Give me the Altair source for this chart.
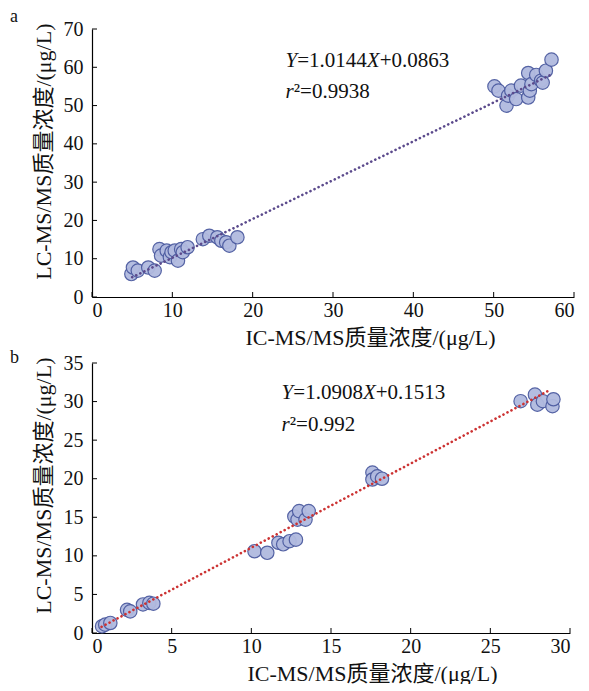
import altair as alt
import pandas as pd

# ---------------- data ----------------
a_x = [4.9, 5.1, 5.7, 7.0, 7.8, 8.4, 8.6, 9.3, 9.7, 9.9, 10.3, 10.7, 11.1, 11.3, 11.9,
       13.8, 14.6, 15.6, 16.1, 16.7, 17.1, 18.1,
       50.1, 50.6, 51.6, 51.8, 52.2, 52.8, 53.4, 54.3, 54.5, 54.3, 54.7, 55.3, 55.9, 56.1, 56.5, 57.2]
a_y = [6.0, 7.7, 6.9, 7.7, 6.9, 12.5, 10.8, 12.1, 10.4, 11.7, 12.1, 9.5, 12.5, 11.7, 13.0,
       15.1, 16.0, 15.6, 14.7, 14.3, 13.4, 15.6,
       55.0, 53.9, 50.0, 52.6, 53.9, 51.7, 55.2, 52.1, 53.9, 58.5, 55.6, 58.0, 56.5, 56.0, 59.1, 62.0]

b_x = [0.63, 0.83, 1.15, 2.2, 2.4, 3.2, 3.6, 3.85,
       10.2, 11.0, 11.7, 12.0, 12.4, 12.8, 12.7, 12.9, 13.0, 13.4, 13.6,
       17.6, 17.6, 17.9, 18.2,
       26.9, 27.8, 27.95, 28.3, 28.9, 28.96]
b_y = [0.87, 1.08, 1.3, 3.0, 2.8, 3.7, 3.9, 3.8,
       10.6, 10.4, 11.7, 11.5, 11.9, 12.1, 15.1, 14.7, 15.8, 14.7, 15.8,
       20.8, 19.9, 20.3, 20.0,
       30.05, 30.9, 29.6, 30.05, 29.4, 30.3]

a_fit = (1.0144, 0.0863)
b_fit = (1.0908, 0.1513)
a_line_x = [5.0, 57.0]
b_line_x = [0.6, 28.6]

a_xticks = [0, 10, 20, 30, 40, 50, 60]
a_yticks = [0, 10, 20, 30, 40, 50, 60, 70]
b_xticks = [0, 5, 10, 15, 20, 25, 30]
b_yticks = [0, 5, 10, 15, 20, 25, 30, 35]

a_eq = [("Y", True), ("=1.0144", False), ("X", True), ("+0.0863", False)]
a_r2 = [("r", True), ("²=0.9938", False)]
b_eq = [("Y", True), ("=1.0908", False), ("X", True), ("+0.1513", False)]
b_r2 = [("r", True), ("²=0.992", False)]

a_eq_pos = (24.1, 61.6)
a_r2_pos = (24.1, 53.6)
b_eq_pos = (11.9, 31.1)
b_r2_pos = (11.9, 27.0)

x_title = "IC-MS/MS质量浓度/(μg/L)"
y_title = "LC-MS/MS质量浓度/(μg/L)"

FONT = "Liberation Serif, Noto Sans CJK SC"
EQ_SIZE = 21

REG_W = {**{str(d): 0.5 for d in range(10)}, ".": 0.25, "=": 0.564, "+": 0.564, "²": 0.3}
IT_W = {"Y": 0.556, "X": 0.611, "r": 0.389}


def seg_width(text, italic):
    table = IT_W if italic else REG_W
    return sum(table.get(c, 0.5) for c in text) * EQ_SIZE


def panel(label, label_dx, label_dy, xs_data, ys_data, line_x, fit, line_color, xdom, ydom,
          xt, yt, eq, r2, eq_pos, r2_pos, w, h, title_x):
    xs = alt.Scale(domain=xdom, nice=False, zero=False)
    ys = alt.Scale(domain=ydom, nice=False, zero=False)
    ax_x = alt.Axis(values=xt, ticks=False, grid=False, title=x_title,
                    labelPadding=3, titlePadding=7, format="d", titleX=title_x)
    ax_y = alt.Axis(values=yt, ticks=False, grid=False, title=y_title,
                    labelPadding=9, titlePadding=8, format="d",
                    titleAnchor="end", titleY=-6)

    def X(f):
        return alt.X(f, scale=xs, axis=ax_x)

    def Y(f):
        return alt.Y(f, scale=ys, axis=ax_y)

    pts = pd.DataFrame({"x": xs_data, "y": ys_data})
    line = pd.DataFrame({"x": line_x, "y": [fit[0] * v + fit[1] for v in line_x]})

    points = alt.Chart(pts).mark_circle(
        size=180, color="#b1badf", stroke="#4c5ba0", strokeWidth=1.2, opacity=0.95
    ).encode(x=X("x:Q"), y=Y("y:Q"))

    fit_line = alt.Chart(line).mark_line(
        color=line_color, strokeWidth=2.6, strokeDash=[0.1, 4.4], strokeCap="round"
    ).encode(x=X("x:Q"), y=Y("y:Q"))

    xtick = alt.Chart(pd.DataFrame({"x": xt})).mark_rule(color="black", strokeWidth=1).encode(
        x=X("x:Q"), y=alt.value(h), y2=alt.value(h - 5),
    )
    ytick = alt.Chart(pd.DataFrame({"y": yt})).mark_rule(color="black", strokeWidth=1).encode(
        y=Y("y:Q"), x=alt.value(0), x2=alt.value(5),
    )

    panel_label = alt.Chart(pd.DataFrame({"t": [label]})).mark_text(
        align="left", baseline="alphabetic", font="Liberation Serif", fontSize=18,
        color="#111111",
    ).encode(text="t:N", x=alt.value(label_dx), y=alt.value(label_dy))

    def text_layers(segments, pos):
        out = []
        off = 0.0
        df = pd.DataFrame({"x": [pos[0]], "y": [pos[1]]})
        for txt, it in segments:
            mk = dict(text=txt, align="left", baseline="middle", font="Liberation Serif",
                      fontSize=EQ_SIZE, color="#111111", dx=off)
            if it:
                mk["fontStyle"] = "italic"
            out.append(alt.Chart(df).mark_text(**mk).encode(x=X("x:Q"), y=Y("y:Q")))
            off += seg_width(txt, it)
        return out

    layers = [points, fit_line, xtick, ytick, panel_label]
    layers += text_layers(eq, eq_pos)
    layers += text_layers(r2, r2_pos)

    return alt.layer(*layers).properties(width=w, height=h)


pa = panel("a", -82, -7, a_x, a_y, a_line_x, a_fit, "#5b4a8c", [0, 60], [0, 70],
           a_xticks, a_yticks, a_eq, a_r2, a_eq_pos, a_r2_pos, 482, 268, 278)
pb = panel("b", -82, 0, b_x, b_y, b_line_x, b_fit, "#cc3333", [0, 30], [0, 35],
           b_xticks, b_yticks, b_eq, b_r2, b_eq_pos, b_r2_pos, 478, 270, 280)

chart = alt.vconcat(
    pa, pb, spacing=1, background="white",
    padding={"left": 2, "top": 0, "right": 0, "bottom": 0},
).configure_view(
    stroke=None
).configure_axis(
    domainColor="black", domainWidth=1.2,
    labelFont=FONT, labelFontSize=20, labelColor="#111111",
    titleFont=FONT, titleFontSize=22, titleFontWeight="normal", titleColor="#111111",
)

chart.save("out.html", embed_options={"renderer": "svg", "actions": False})
